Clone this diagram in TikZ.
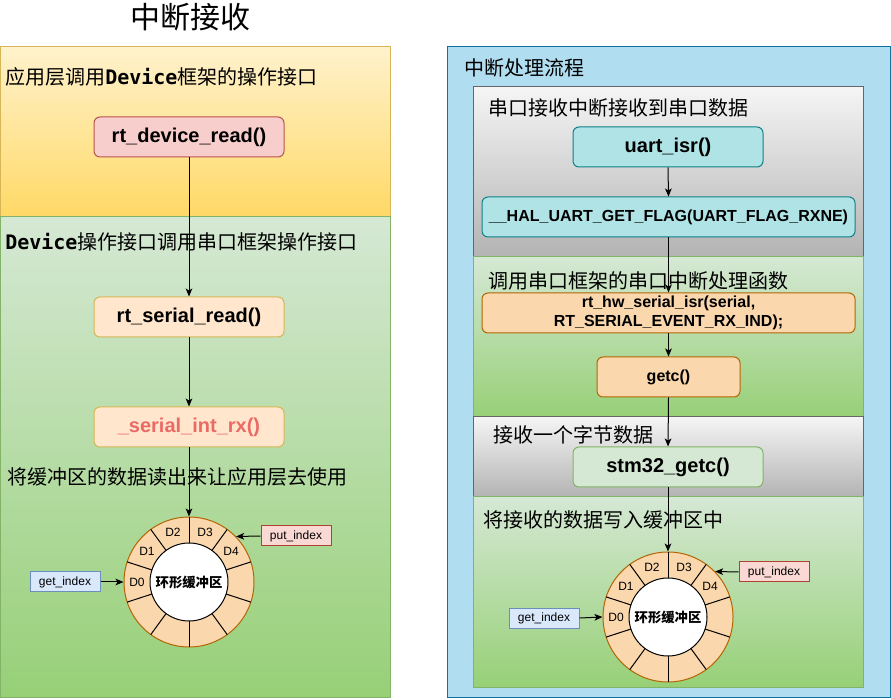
\documentclass[tikz,border=0pt]{standalone}
\usepackage{fontspec}
\setmainfont{Liberation Sans}
\newfontfamily\cjk{Noto Sans CJK SC}
\newfontfamily\devmono{DejaVu Sans Mono}
\usepackage{xcolor}
\usepackage{tikz}
\usetikzlibrary{arrows.meta, positioning}

\definecolor{ylTop}{HTML}{FFF2CC}
\definecolor{ylBot}{HTML}{FFD966}
\definecolor{ylEdge}{HTML}{D6B656}
\definecolor{grTop}{HTML}{D5E8D4}
\definecolor{grBot}{HTML}{97D077}
\definecolor{grEdge}{HTML}{82B366}
\definecolor{gyTop}{HTML}{F5F5F5}
\definecolor{gyBot}{HTML}{B3B3B3}
\definecolor{gyEdge}{HTML}{666666}
\definecolor{bluFill}{HTML}{B1DDF0}
\definecolor{bluEdge}{HTML}{10739E}
\definecolor{redFill}{HTML}{F8CECC}
\definecolor{redEdge}{HTML}{B85450}
\definecolor{orFill}{HTML}{FFE6CC}
\definecolor{orEdge}{HTML}{D6B656}
\definecolor{tanFill}{HTML}{FAD7AC}
\definecolor{tanEdge}{HTML}{B46504}
\definecolor{tealFill}{HTML}{B0E3E6}
\definecolor{tealEdge}{HTML}{0E8088}
\definecolor{pinkFill}{HTML}{FAD9D5}
\definecolor{pinkEdge}{HTML}{AE4132}
\definecolor{skyFill}{HTML}{DAE8FC}
\definecolor{skyEdge}{HTML}{6C8EBF}
\definecolor{warnTxt}{HTML}{EA6B66}

\begin{document}
\begin{tikzpicture}[x=0.75pt, y=0.75pt,
  fbox/.style  = {rounded corners=4.5pt, minimum width=142.5pt,
                  minimum height=30pt, line width=0.75pt, align=center,
                  font=\fontsize{15}{18}\selectfont\bfseries},
  sbox/.style  = {rounded corners=4.5pt, minimum height=30pt,
                  line width=0.75pt, align=center, inner sep=1pt,
                  font=\fontsize{12}{14.2}\selectfont\bfseries},
  ibox/.style  = {minimum width=52.5pt, minimum height=15pt, inner sep=0pt,
                  line width=0.75pt, font=\fontsize{9}{10}\selectfont},
  hdr/.style   = {anchor=west, inner sep=0pt,
                  font=\fontsize{15}{18}\selectfont\cjk},
  ring/.style  = {circle, draw=tanEdge, fill=tanFill, line width=0.75pt,
                  minimum size=97.5pt, inner sep=0pt},
  core/.style  = {circle, draw=black, fill=white, line width=0.75pt,
                  minimum size=58.5pt, inner sep=0pt,
                  font=\fontsize{10}{12}\selectfont\cjk\bfseries},
  dlab/.style  = {inner sep=0pt, font=\fontsize{9}{10}\selectfont},
  darr/.style  = {-{Stealth[length=6pt,width=5pt,inset=1.5pt]}, line width=0.75pt},
  lane/.style  = {line width=0.75pt},
]
\useasboundingbox (0,0) rectangle (891,699);

%% ── 中断接收 ────────────────────────────────────────────────────────────────
\node[font=\fontsize{22.5}{27}\selectfont\cjk] (ttl) at (190,682) {中断接收};

\draw[lane, draw=ylEdge, top color=ylTop, bottom color=ylBot] (0.5,652) rectangle (390,482);
\draw[lane, draw=grEdge, top color=grTop, bottom color=grBot] (0.5,482) rectangle (390,2);

\node[hdr] (ha1) at (5,622) {应用层调用{\devmono\bfseries Device}框架的操作接口};
\node[hdr] (ha2) at (5,457) {{\devmono\bfseries Device}操作接口调用串口框架操作接口};
\node[hdr] (ha3) at (7,222) {将缓冲区的数据读出来让应用层去使用};

\node[fbox, draw=redEdge, fill=redFill] (RDa) at (189,562) {rt\_device\_read()};
\node[fbox, draw=orEdge,  fill=orFill]  (SRa) at (189,382) {rt\_serial\_read()};
\node[fbox, draw=orEdge,  fill=orFill, text=warnTxt] (IRa) at (189,272) {\_serial\_int\_rx()};

\node[ring] (RBa) at (189,117) {};
\foreach \a in {18,54,...,342}
  \draw[lane] ([shift={(\a:29.25pt)}]RBa.center) -- ([shift={(\a:48.75pt)}]RBa.center);
\node[core] (CBa) at (RBa.center) {环形缓冲区};
\foreach \a/\t in {180/D0, 144/D1, 108/D2, 72/D3, 36/D4}
  \node[dlab] at ([shift={(\a:39pt)}]RBa.center) {\t};

\node[ibox, draw=pinkEdge, fill=pinkFill] (PIa) at (296,163) {put\_index};
\node[ibox, draw=skyEdge,  fill=skyFill]  (GIa) at (65,117)  {get\_index};

\draw[darr] (RDa.south) -- (SRa.north);
\draw[darr] (SRa.south) -- (IRa.north);
\draw[darr] (IRa.south) -- (RBa.north);
\draw[darr] (PIa.west)  -- (RBa.44);
\draw[darr] (GIa.east)  -- (RBa.west);

%% ── 中断处理流程 ────────────────────────────────────────────────────────────
\draw[lane, draw=bluEdge, fill=bluFill] (447,652) rectangle (890,2);
\draw[lane, draw=gyEdge, top color=gyTop, bottom color=gyBot] (473,612) rectangle (863,442);
\draw[lane, draw=grEdge, top color=grTop, bottom color=grBot] (473,442) rectangle (863,282);
\draw[lane, draw=gyEdge, top color=gyTop, bottom color=gyBot] (473,282) rectangle (863,202);
\draw[lane, draw=grEdge, top color=grTop, bottom color=grBot] (473,202) rectangle (863,12);

\node[hdr] (hb0) at (464,631) {中断处理流程};
\node[hdr] (hb1) at (488,591) {串口接收中断接收到串口数据};
\node[hdr] (hb2) at (488,418) {调用串口框架的串口中断处理函数};
\node[hdr] (hb3) at (493,264) {接收一个字节数据};
\node[hdr] (hb4) at (483,179) {将接收的数据写入缓冲区中};

\node[fbox, draw=tealEdge, fill=tealFill] (ISb) at (668,552) {uart\_isr()};
\node[sbox, draw=tealEdge, fill=tealFill, minimum width=279.75pt] (HFb) at (668.5,482)
  {\_\_HAL\_UART\_GET\_FLAG(UART\_FLAG\_RXNE)};
\node[sbox, draw=tanEdge, fill=tanFill, minimum width=279.75pt] (HWb) at (668.5,386)
  {rt\_hw\_serial\_isr(serial,\\RT\_SERIAL\_EVENT\_RX\_IND);};
\node[sbox, draw=tanEdge, fill=tanFill, minimum width=107.25pt] (GCb) at (668.5,322) {getc()};
\node[fbox, draw=grEdge, fill=grTop] (SGb) at (668,232) {stm32\_getc()};

\node[ring] (RBb) at (668,82) {};
\foreach \a in {18,54,...,342}
  \draw[lane] ([shift={(\a:29.25pt)}]RBb.center) -- ([shift={(\a:48.75pt)}]RBb.center);
\node[core] (CBb) at (RBb.center) {环形缓冲区};
\foreach \a/\t in {180/D0, 144/D1, 108/D2, 72/D3, 36/D4}
  \node[dlab] at ([shift={(\a:39pt)}]RBb.center) {\t};

\node[ibox, draw=pinkEdge, fill=pinkFill] (PIb) at (774,127) {put\_index};
\node[ibox, draw=skyEdge,  fill=skyFill]  (GIb) at (544,81)  {get\_index};

\draw[darr] (ISb.south) -- (HFb.north);
\draw[darr] (HFb.south) -- (HWb.north);
\draw[darr] (HWb.south) -- (GCb.north);
\draw[darr] (GCb.south) -- (SGb.north);
\draw[darr] (SGb.south) -- (RBb.north);
\draw[darr] (PIb.west)  -- (RBb.44);
\draw[darr] (GIb.east)  -- (RBb.west);

\end{tikzpicture}
\end{document}
